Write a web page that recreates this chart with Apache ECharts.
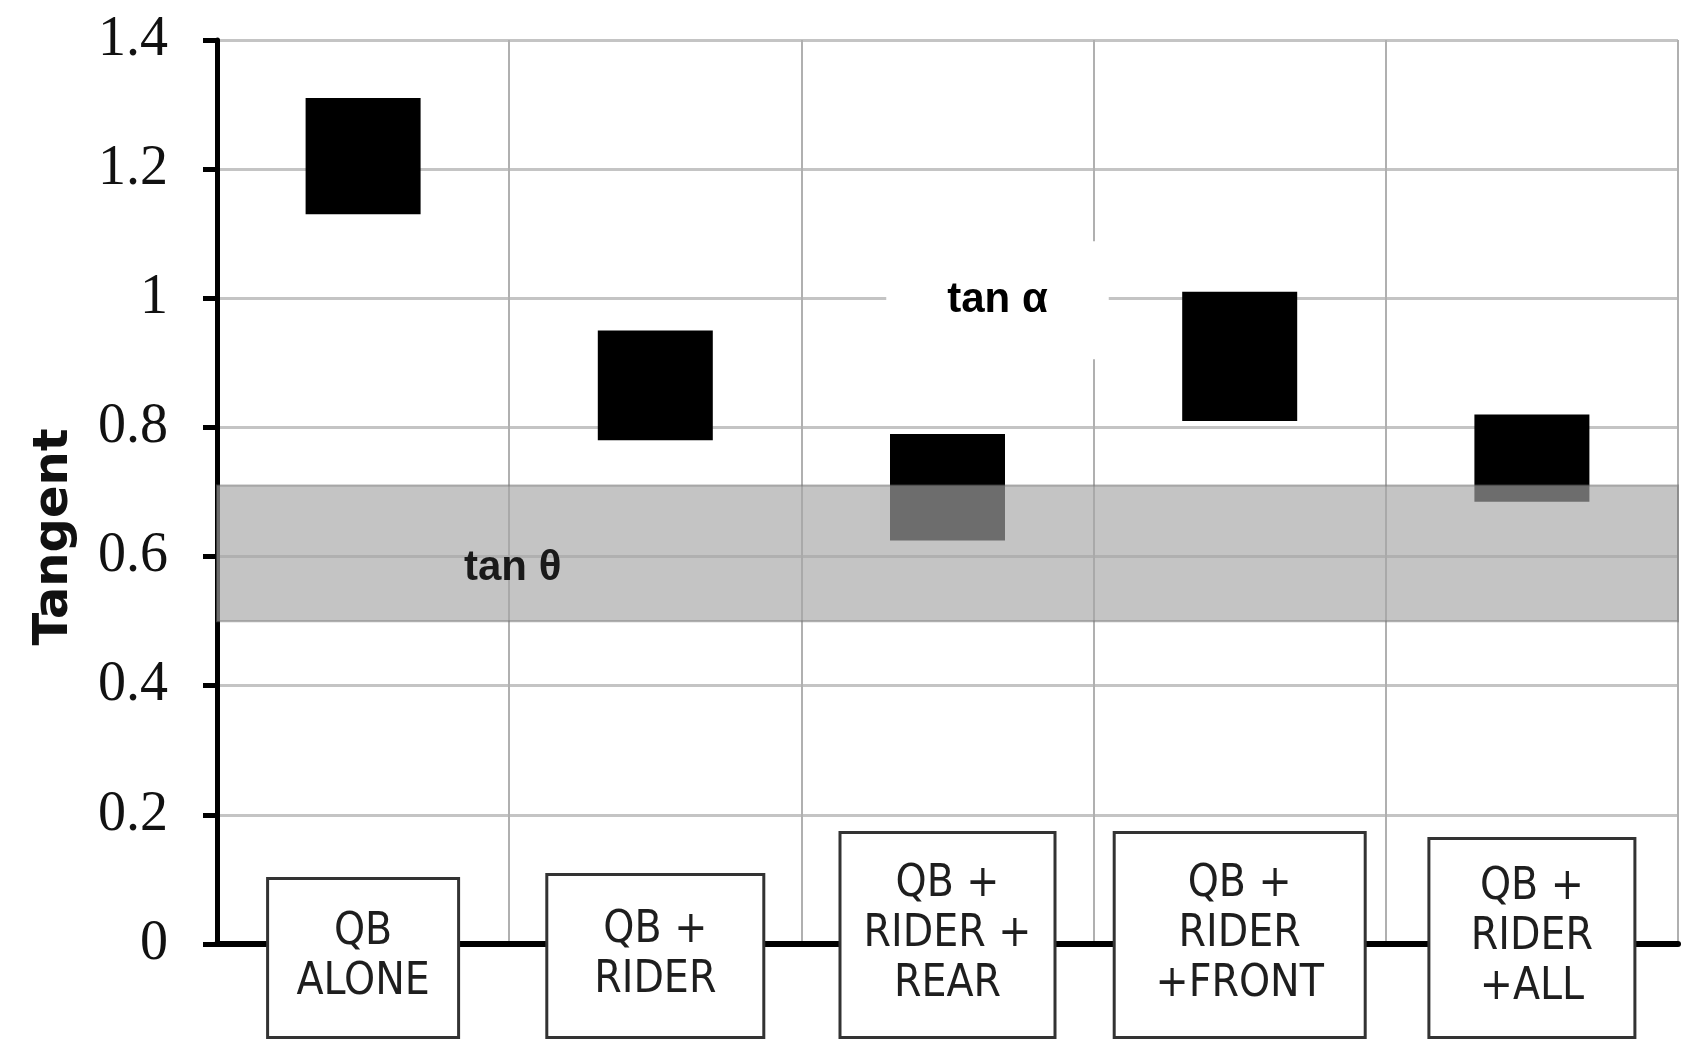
<!DOCTYPE html>
<html>
<head>
<meta charset="UTF-8">
<title>Tangent</title>
<style>
  html, body { margin: 0; padding: 0; background: #fff; }
  #chart { width: 1700px; height: 1064px; }
</style>
</head>
<body>
<div id="chart"></div>
<script src="https://cdn.jsdelivr.net/npm/echarts@6/dist/echarts.min.js"></script>
<script>
  // categories (text inside the boxes under the axis)
  var categories = ['QB\nALONE', 'QB +\nRIDER', 'QB +\nRIDER +\nREAR', 'QB +\nRIDER\n+FRONT', 'QB +\nRIDER\n+ALL'];
  // tan alpha range per case (bottom / top of the black squares)
  var tanAlphaLow = [1.13, 0.78, 0.625, 0.81, 0.685];
  var tanAlphaHigh = [1.31, 0.95, 0.79, 1.01, 0.82];
  // tan theta band
  var tanThetaBand = [0.5, 0.71];
  // y axis range
  var yMin = 0, yMax = 1.4, yStep = 0.2;

  // box sizes of the category labels
  var boxWidth = [188, 214, 212, 248, 203];
  var boxPadV = [28, 30, 26, 26, 23];

  var chart = echarts.init(document.getElementById('chart'));

  // per-item textStyle does not inherit align/verticalAlign, so set them here
  var catData = categories.map(function (c, i) {
    return {
      value: c,
      textStyle: {
        width: boxWidth[i],
        padding: [boxPadV[i], 0, boxPadV[i], 0],
        align: 'center',
        verticalAlign: 'bottom'
      }
    };
  });

  var rangeData = tanAlphaHigh.map(function (h, i) { return +(h - tanAlphaLow[i]).toFixed(4); });

  chart.setOption({
    animation: false,
    backgroundColor: '#fff',
    grid: { left: 217, right: 22, top: 40, bottom: 120, containLabel: false, outerBoundsMode: 'none' },
    xAxis: {
      type: 'category',
      data: catData,
      z: 1,
      axisLine: { lineStyle: { color: '#000', width: 6 } },
      axisTick: { show: false },
      splitLine: { show: true, showMinLine: false, lineStyle: { color: '#b0b0b0', width: 2 } },
      axisLabel: {
        interval: 0,
        margin: 92,
        verticalAlign: 'bottom',
        fontFamily: "'Liberation Sans Narrow', 'DejaVu Sans Condensed', 'Liberation Sans', sans-serif",
        fontSize: 44,
        lineHeight: 50,
        color: '#1e1e1e',
        backgroundColor: '#fff',
        borderColor: '#333',
        borderWidth: 3
      }
    },
    yAxis: {
      type: 'value',
      min: yMin, max: yMax, interval: yStep,
      z: 0,
      name: 'Tangent',
      nameLocation: 'middle',
      nameGap: 138,
      nameTextStyle: {
        fontFamily: "'DejaVu Sans', sans-serif",
        fontWeight: 'bold',
        fontSize: 48,
        color: '#111',
        padding: [0, 90, 0, 0]
      },
      axisLine: { show: true, lineStyle: { color: '#000', width: 5 } },
      axisTick: { show: true, length: 14, lineStyle: { color: '#000', width: 5 } },
      axisLabel: {
        margin: 49,
        fontFamily: "'Liberation Serif', 'Times New Roman', serif",
        fontSize: 56,
        color: '#111'
      },
      splitLine: { show: true, lineStyle: { color: '#c4c4c4', width: 3 } }
    },
    series: [
      {
        name: 'base',
        type: 'bar',
        stack: 'alpha',
        silent: true,
        barWidth: 115,
        itemStyle: { color: 'rgba(0,0,0,0)' },
        data: tanAlphaLow,
        markArea: {
          silent: true,
          z: 3,
          itemStyle: { color: 'rgba(166,166,166,0.66)', borderColor: 'rgba(110,110,110,0.5)', borderWidth: 2 },
          label: {
            show: true,
            position: 'insideLeft',
            offset: [243, 15],
            fontFamily: "'Liberation Sans', Arial, sans-serif",
            fontWeight: 'bold',
            fontSize: 42,
            color: '#1a1a1a'
          },
          data: [[{ name: 'tan θ', yAxis: tanThetaBand[0] }, { yAxis: tanThetaBand[1] }]]
        }
      },
      {
        name: 'tan α',
        type: 'bar',
        stack: 'alpha',
        silent: true,
        barWidth: 115,
        itemStyle: { color: '#000' },
        data: rangeData,
        markPoint: {
          silent: true,
          symbol: 'rect',
          symbolSize: 0,
          label: {
            show: true,
            position: 'inside',
            formatter: '{b}',
            offset: [50, 2],
            fontFamily: "'Liberation Sans', Arial, sans-serif",
            fontWeight: 'bold',
            fontSize: 42,
            color: '#000',
            backgroundColor: '#fff',
            padding: [38, 61]
          },
          data: [{ name: 'tan α', coord: [categories[2], 1.0] }]
        }
      }
    ]
  });
</script>
</body>
</html>
